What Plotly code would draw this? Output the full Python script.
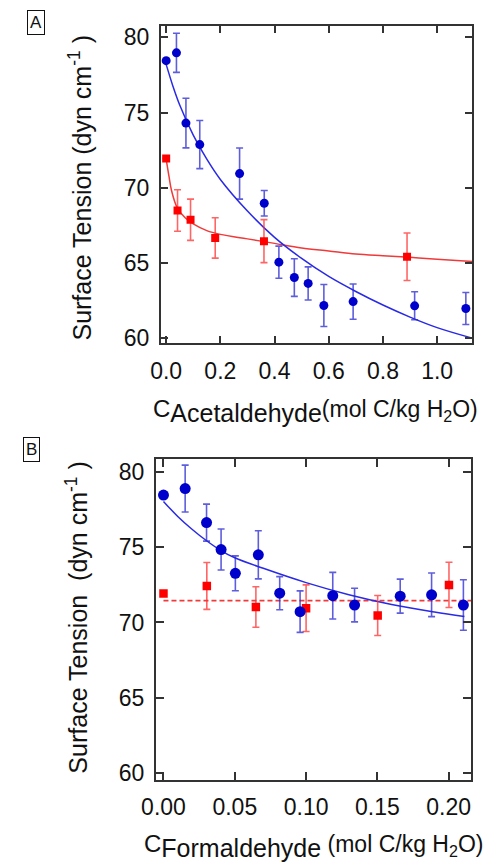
import plotly.graph_objects as go

W, H = 484, 867
FONT = "Liberation Sans, Arial, Helvetica, sans-serif"

# ---------------- Panel A : acetaldehyde ----------------
a_blue_x = [0.0, 0.038, 0.073, 0.124, 0.271, 0.362, 0.416, 0.473, 0.524, 0.582, 0.690, 0.917, 1.106]
a_blue_y = [78.45, 78.97, 74.3, 72.87, 70.94, 68.97, 65.05, 64.03, 63.64, 62.17, 62.43, 62.15, 61.97]
a_blue_err = [0.0, 1.3, 1.65, 1.6, 1.7, 0.85, 1.07, 1.25, 1.1, 1.4, 1.17, 0.93, 1.06]

a_red_x = [0.0, 0.042, 0.090, 0.181, 0.361, 0.889]
a_red_y = [71.95, 68.49, 67.87, 66.66, 66.45, 65.41]
a_red_err = [0.0, 1.38, 1.37, 1.34, 1.43, 1.58]

a_blue_fit_x = [0.0, 0.025, 0.05, 0.1, 0.15, 0.2, 0.3, 0.4, 0.5, 0.6, 0.7, 0.8, 0.9, 1.0, 1.13]
a_blue_fit_y = [78.2, 76.75, 75.5, 73.5, 71.9, 70.55, 68.45, 66.7, 65.3, 64.1, 63.1, 62.2, 61.4, 60.7, 60.0]

a_red_fit_x = [0.0, 0.01, 0.02, 0.04, 0.07, 0.1, 0.15, 0.2, 0.3, 0.4, 0.5, 0.6, 0.7, 0.8, 0.9, 1.0, 1.13]
a_red_fit_y = [71.9, 70.8, 69.8, 68.7, 68.0, 67.6, 67.15, 66.9, 66.6, 66.3, 66.0, 65.8, 65.6, 65.48, 65.37, 65.25, 65.1]

a_xticks = [0.0, 0.2, 0.4, 0.6, 0.8, 1.0]

# ---------------- Panel B : formaldehyde ----------------
b_blue_x = [0.0, 0.0152, 0.0302, 0.0404, 0.0504, 0.0665, 0.0815, 0.0958, 0.1187, 0.134, 0.166, 0.188, 0.2103]
b_blue_y = [78.47, 78.9, 76.64, 74.85, 73.27, 74.5, 71.95, 70.72, 71.78, 71.16, 71.75, 71.84, 71.16]
b_blue_err = [0.0, 1.56, 1.23, 1.36, 1.16, 1.6, 1.1, 1.38, 1.55, 1.12, 1.13, 1.45, 1.68]

b_red_x = [0.0, 0.0304, 0.0648, 0.100, 0.1502, 0.2002]
b_red_y = [71.93, 72.43, 71.03, 70.95, 70.46, 72.5]
b_red_err = [0.0, 1.56, 1.35, 1.55, 1.33, 1.5]

b_blue_fit_x = [0.0, 0.01, 0.02, 0.03, 0.04, 0.05, 0.07, 0.10, 0.13, 0.16, 0.19, 0.211]
b_blue_fit_y = [78.05, 77.05, 76.2, 75.45, 74.8, 74.3, 73.6, 72.65, 71.85, 71.2, 70.7, 70.4]

b_red_mean_x = [0.0, 0.2157]
b_red_mean_y = [71.45, 71.45]

b_xticks = [0.0, 0.05, 0.10, 0.15, 0.20]
yticks = [60, 65, 70, 75, 80]

BLUE = "#0000CC"
BLUE_LINE = "#2a2ae6"
BLUE_ERR = "rgba(40,40,210,0.75)"
RED = "#FF0000"
RED_LINE = "#f03a3a"
RED_ERR = "rgba(255,50,50,0.75)"

fig = go.Figure()

def add_panel(xa, ya, bx, by, be, rx, ry, re, bsize, rsize):
    fig.add_trace(go.Scatter(x=rx, y=ry, mode="markers", xaxis=xa, yaxis=ya,
                             marker=dict(symbol="square", size=rsize, color=RED),
                             error_y=dict(type="data", array=re, visible=True, color=RED_ERR,
                                          thickness=1.6, width=3.5),
                             showlegend=False))
    fig.add_trace(go.Scatter(x=bx, y=by, mode="markers", xaxis=xa, yaxis=ya,
                             marker=dict(symbol="circle", size=bsize, color=BLUE),
                             error_y=dict(type="data", array=be, visible=True, color=BLUE_ERR,
                                          thickness=1.6, width=3.5),
                             showlegend=False))

# fits panel A
fig.add_trace(go.Scatter(x=a_red_fit_x, y=a_red_fit_y, mode="lines", xaxis="x", yaxis="y",
                         line=dict(color=RED_LINE, width=1.5, shape="spline"), showlegend=False))
fig.add_trace(go.Scatter(x=a_blue_fit_x, y=a_blue_fit_y, mode="lines", xaxis="x", yaxis="y",
                         line=dict(color=BLUE_LINE, width=1.5, shape="spline"), showlegend=False))
add_panel("x", "y", a_blue_x, a_blue_y, a_blue_err, a_red_x, a_red_y, a_red_err, 9, 8)

# fits panel B
fig.add_trace(go.Scatter(x=b_red_mean_x, y=b_red_mean_y, mode="lines", xaxis="x2", yaxis="y2",
                         line=dict(color=RED_LINE, width=1.6, dash="5px,3px"), showlegend=False))
fig.add_trace(go.Scatter(x=b_blue_fit_x, y=b_blue_fit_y, mode="lines", xaxis="x2", yaxis="y2",
                         line=dict(color=BLUE_LINE, width=1.5, shape="spline"), showlegend=False))
add_panel("x2", "y2", b_blue_x, b_blue_y, b_blue_err, b_red_x, b_red_y, b_red_err, 11, 8.5)

axis_common = dict(showline=True, linecolor="#333", linewidth=1.5, mirror="allticks",
                   ticks="inside", ticklen=8, tickwidth=1.5, tickcolor="#333",
                   showgrid=False, zeroline=False,
                   tickfont=dict(family=FONT, size=23, color="#111"))

def px_x(p):
    return p / W

def px_y(p):
    return 1 - p / H

fig.update_layout(
    width=W, height=H, margin=dict(l=0, r=0, t=0, b=0),
    paper_bgcolor="white", plot_bgcolor="white",
    xaxis=dict(domain=[px_x(151), px_x(472)], range=[-0.0204, 1.130], anchor="y",
               tickvals=a_xticks, tickformat=".1f", ticklabelstandoff=6, **axis_common),
    yaxis=dict(domain=[px_y(346), px_y(25)], range=[59.65, 80.77], anchor="x",
               tickvals=yticks, ticklabelstandoff=5, **axis_common),
    xaxis2=dict(domain=[px_x(146), px_x(470.7)], range=[-0.0054, 0.2157], anchor="y2",
                tickvals=b_xticks, tickformat=".2f", ticklabelstandoff=6, **axis_common),
    yaxis2=dict(domain=[px_y(787.3), px_y(462.7)], range=[59.52, 80.875], anchor="x2",
                tickvals=yticks, ticklabelstandoff=5, **axis_common),
)

ann = []
# panel letters
ann.append(dict(text="A", x=px_x(23), y=px_y(21.3), xref="paper", yref="paper",
                showarrow=False, font=dict(family=FONT, size=17, color="#111"),
                bordercolor="#111", borderwidth=1, borderpad=2, xanchor="center", yanchor="middle"))
ann.append(dict(text="B", x=px_x(18), y=px_y(453), xref="paper", yref="paper",
                showarrow=False, font=dict(family=FONT, size=17, color="#111"),
                bordercolor="#111", borderwidth=1, borderpad=2, xanchor="center", yanchor="middle"))
# y titles
ann.append(dict(text="Surface Tension (dyn cm<sup>-1</sup> )", textangle=-90,
                x=px_x(87), y=px_y(188), xref="paper", yref="paper", showarrow=False,
                xanchor="right", yanchor="middle", font=dict(family=FONT, size=25, color="#111")))
ann.append(dict(text="Surface Tension  (dyn cm<sup>-1</sup> )", textangle=-90,
                x=px_x(83), y=px_y(623.5), xref="paper", yref="paper", showarrow=False,
                xanchor="right", yanchor="middle", font=dict(family=FONT, size=25, color="#111")))
# x titles
ann.append(dict(text="C<sub><span style='font-size:25px'>Acetaldehyde</span></sub>"
                     "<span style='font-size:23px'>(mol C/kg H<sub>2</sub>O)</span>",
                x=px_x(310), y=px_y(396), xref="paper", yref="paper", showarrow=False,
                xanchor="center", yanchor="top", font=dict(family=FONT, size=24, color="#111")))
ann.append(dict(text="C<sub><span style='font-size:25px'>Formaldehyde</span></sub>"
                     "<span style='font-size:23px'> (mol C/kg H<sub>2</sub>O)</span>",
                x=px_x(308), y=px_y(836), xref="paper", yref="paper", showarrow=False,
                xanchor="center", yanchor="top", font=dict(family=FONT, size=24, color="#111")))
fig.update_layout(annotations=ann)

fig.write_html("out.html")
